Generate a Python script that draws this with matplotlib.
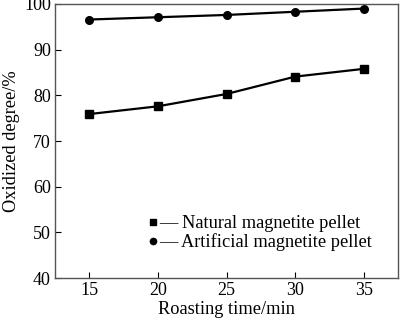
import matplotlib
matplotlib.use("Agg")
import matplotlib.pyplot as plt
from matplotlib.lines import Line2D

time_min = [15, 20, 25, 30, 35]
natural = [75.9, 77.6, 80.3, 84.1, 85.8]
artificial = [96.6, 97.1, 97.6, 98.3, 99.0]
labels = ["Natural magnetite pellet", "Artificial magnetite pellet"]

plt.rcParams['font.family'] = ['Liberation Serif', 'DejaVu Serif']
fig = plt.figure(figsize=(4.0, 3.22), dpi=100)
ax = fig.add_axes([0.1375, 0.1366, 0.858, 0.851])

ax.plot(time_min, natural, color='black', lw=1.6, marker='s', ms=5.5)
ax.plot(time_min, artificial, color='black', lw=1.6, marker='o', ms=5.5)

ax.set_xlim(12.5, 37.5)
ax.set_ylim(40, 100)
ax.set_xticks(time_min)
ax.set_yticks(range(40, 101, 10))
ax.tick_params(direction='in', length=4, labelsize=13, colors='black', width=0.8, pad=3)
for s in ax.spines.values():
    s.set_color('#555555')
    s.set_linewidth(1.0)

ax.set_xlabel("Roasting time/min", fontsize=13.2, labelpad=1)
ax.set_ylabel("Oxidized degree/%", fontsize=13.2, labelpad=3)

handles = [Line2D([], [], color='black', marker='s', ms=4.5, ls='None'),
           Line2D([], [], color='black', marker='o', ms=4.5, ls='None')]
ax.legend(handles, ["\u2014 " + l for l in labels], loc='lower left',
          bbox_to_anchor=(0.246, 0.0645), frameon=False, fontsize=13.2,
          handlelength=0.5, handletextpad=0.05, labelspacing=0.05, borderpad=0)

fig.savefig("out.png", dpi=100)
